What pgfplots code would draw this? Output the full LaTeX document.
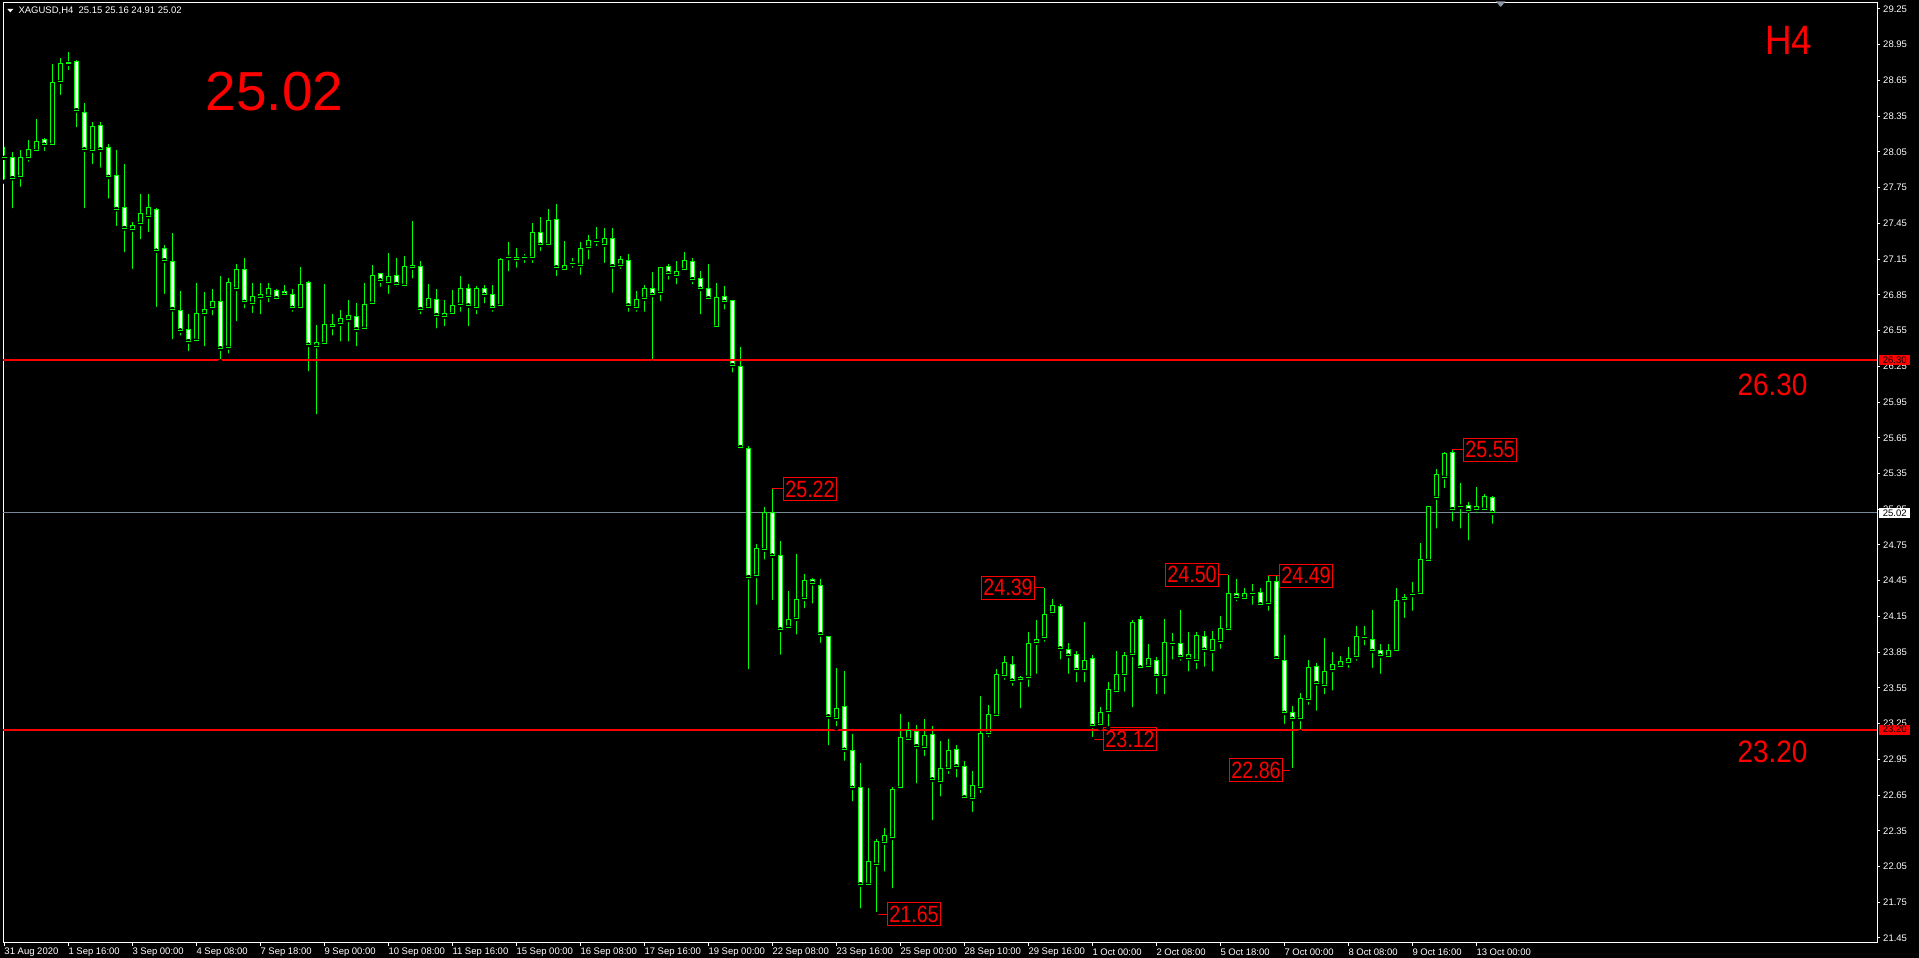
\documentclass[border=0pt]{standalone}
\usepackage{pgfplots}
\pgfplotsset{compat=1.18}
\usepackage{pgfplotstable}
\usepackage{fontspec}
\setmainfont{Liberation Sans}
\newfontfamily\annfont[FakeStretch=0.84]{Liberation Sans}
\newfontfamily\bigfont[FakeStretch=0.9]{Liberation Sans}
\definecolor{cgreen}{RGB}{0,255,0}
\definecolor{cred}{RGB}{255,0,0}
\definecolor{bidgray}{RGB}{119,136,153}
\definecolor{markgray}{RGB}{140,150,165}
\newcommand\tickfont{\fontsize{9.5}{11}\selectfont}

\pgfplotsset{
  ebar/.style 2 args={only marks, mark=none,
    error bars/y dir=plus, error bars/y explicit, error bars/error mark=none,
    error bars/error bar style={draw=#1, line width=#2, solid}},
  cend/.style={only marks, mark=-, mark size=2.5pt, mark options={draw=cgreen, line width=1pt, solid}},
}

\tikzset{ann/.style={draw=cred, text=cred, line width=1pt,
  font=\annfont\fontsize{23.5}{24}\selectfont,
  inner xsep=1.5pt, inner ysep=0pt, minimum height=23pt}}

% rising (and flat) candles: i open high low close
\pgfplotstableread{
i o h l c
0 28.00 28.09 27.80 28.00
2 27.84 28.07 27.74 28.00
3 28.00 28.15 27.95 28.07
4 28.06 28.33 28.06 28.14
6 28.11 28.79 28.09 28.63
7 28.64 28.84 28.51 28.79
8 28.79 28.89 28.72 28.80
11 28.06 28.30 27.93 28.26
16 27.40 27.46 27.05 27.43
17 27.45 27.70 27.30 27.53
18 27.51 27.70 27.36 27.58
24 26.47 26.95 26.45 26.69
25 26.69 26.87 26.40 26.73
26 26.74 26.90 26.66 26.79
28 26.41 26.99 26.34 26.95
29 26.90 27.11 26.61 27.06
31 26.78 26.95 26.68 26.84
32 26.83 26.95 26.67 26.85
33 26.84 26.95 26.77 26.90
37 26.74 27.08 26.73 26.94
39 26.42 26.60 25.83 26.45
40 26.44 26.94 26.44 26.60
42 26.61 26.72 26.44 26.65
43 26.64 26.81 26.44 26.68
45 26.57 26.95 26.55 26.77
46 26.78 27.10 26.76 27.01
48 26.95 27.20 26.84 27.00
50 26.93 27.18 26.89 27.09
51 27.08 27.47 26.97 27.10
53 26.74 26.94 26.71 26.82
55 26.67 26.81 26.57 26.69
56 26.69 26.89 26.68 26.76
57 26.77 27.01 26.69 26.90
59 26.74 26.92 26.67 26.90
62 26.76 27.16 26.74 27.15
63 27.16 27.29 27.03 27.16
65 27.16 27.19 27.10 27.16
66 27.16 27.45 27.10 27.37
68 27.27 27.57 27.25 27.47
70 27.06 27.30 27.04 27.10
71 27.11 27.16 27.06 27.11
72 27.10 27.29 27.00 27.24
73 27.25 27.35 27.13 27.31
74 27.30 27.42 27.24 27.30
75 27.27 27.41 27.10 27.32
77 27.10 27.18 27.05 27.15
79 26.74 26.88 26.69 26.81
80 26.82 26.93 26.69 26.90
82 26.87 27.08 26.78 27.08
84 27.01 27.13 26.92 27.05
85 27.06 27.21 27.03 27.14
89 26.58 26.95 26.58 26.83
94 24.49 24.76 24.23 24.72
95 24.71 25.07 24.61 25.02
98 24.06 24.36 24.06 24.12
99 24.13 24.67 23.98 24.29
100 24.30 24.51 24.20 24.45
104 23.29 23.72 23.21 23.38
108 21.90 22.71 21.90 22.09
109 22.07 22.28 21.65 22.26
110 22.25 22.37 21.99 22.31
111 22.29 22.72 21.85 22.70
112 22.71 23.33 22.69 23.13
113 23.12 23.26 23.12 23.19
115 23.05 23.29 22.96 23.15
117 22.76 23.10 22.62 22.87
118 22.87 23.12 22.81 23.02
121 22.62 22.85 22.49 22.73
122 22.71 23.48 22.65 23.17
123 23.17 23.41 23.12 23.33
124 23.32 23.71 23.30 23.66
125 23.65 23.82 23.60 23.76
127 23.62 23.65 23.36 23.64
128 23.64 24.02 23.54 23.92
129 23.93 24.12 23.65 23.96
130 23.97 24.39 23.92 24.17
131 24.18 24.30 24.14 24.24
135 23.70 24.10 23.58 23.78
137 23.24 23.39 23.21 23.34
138 23.35 23.60 23.21 23.54
139 23.52 23.86 23.51 23.66
140 23.66 23.85 23.50 23.82
141 23.83 24.12 23.37 24.10
143 23.73 23.92 23.70 23.80
145 23.65 24.13 23.48 23.93
146 23.92 24.01 23.77 23.92
148 23.80 24.02 23.67 23.83
149 23.78 24.02 23.69 23.99
151 23.86 24.03 23.67 23.96
152 23.94 24.15 23.86 24.05
153 24.04 24.50 24.03 24.34
155 24.30 24.39 24.29 24.34
156 24.34 24.42 24.23 24.34
158 24.26 24.49 24.18 24.44
162 23.29 23.51 23.18 23.46
163 23.45 23.78 23.39 23.72
165 23.57 23.97 23.48 23.69
166 23.70 23.85 23.51 23.75
167 23.73 23.82 23.72 23.77
168 23.76 23.89 23.70 23.80
169 23.81 24.07 23.76 23.98
170 23.97 24.07 23.89 23.97
173 23.81 23.92 23.81 23.86
174 23.86 24.39 23.85 24.28
175 24.29 24.34 24.12 24.31
176 24.33 24.44 24.18 24.33
177 24.34 24.77 24.33 24.63
178 24.62 25.08 24.62 25.07
179 25.15 25.39 24.87 25.34
180 25.32 25.53 25.21 25.52
182 25.07 25.27 24.87 25.07
184 25.05 25.24 25.00 25.07
185 25.05 25.18 25.05 25.16
}\bull

% falling candles
\pgfplotstableread{
i o h l c
1 28.00 28.05 27.56 27.83
5 28.15 28.17 28.04 28.11
9 28.81 28.82 28.24 28.40
10 28.38 28.46 27.56 28.07
12 28.27 28.30 27.90 28.07
13 28.09 28.12 27.64 27.84
14 27.85 28.07 27.41 27.57
15 27.58 27.95 27.19 27.41
19 27.57 27.58 26.73 27.22
20 27.24 27.27 26.84 27.14
21 27.13 27.37 26.46 26.73
22 26.72 26.88 26.49 26.55
23 26.56 26.69 26.36 26.46
27 26.79 27.01 26.29 26.40
30 27.06 27.16 26.72 26.79
34 26.89 26.90 26.79 26.82
35 26.88 26.93 26.82 26.85
36 26.85 26.90 26.69 26.74
38 26.95 26.97 26.19 26.43
41 26.60 26.69 26.49 26.58
44 26.67 26.78 26.40 26.56
47 27.03 27.03 26.90 26.97
49 27.01 27.16 26.90 26.94
52 27.09 27.13 26.67 26.73
54 26.81 26.90 26.55 26.68
58 26.90 26.94 26.57 26.76
60 26.90 26.93 26.76 26.85
61 26.85 26.93 26.69 26.74
64 27.16 27.24 27.06 27.15
67 27.37 27.50 27.20 27.27
69 27.48 27.61 26.99 27.08
76 27.32 27.41 26.85 27.09
78 27.14 27.19 26.69 26.76
81 26.90 27.04 26.28 26.85
83 27.09 27.11 26.96 27.03
86 27.13 27.16 26.92 26.98
87 26.99 27.05 26.67 26.90
88 26.90 27.11 26.78 26.82
90 26.84 26.92 26.71 26.79
91 26.80 26.80 26.18 26.26
92 26.25 26.41 25.53 25.57
93 25.56 25.58 23.69 24.48
96 25.02 25.22 24.27 24.66
97 24.66 24.78 23.81 24.04
101 24.46 24.47 24.24 24.43
102 24.41 24.46 23.91 24.00
103 23.98 23.98 23.05 23.31
105 23.39 23.69 22.92 23.03
106 23.02 23.16 22.58 22.71
107 22.71 22.92 21.68 21.90
114 23.18 23.24 22.73 23.06
116 23.16 23.23 22.42 22.78
119 23.03 23.07 22.78 22.89
120 22.89 22.94 22.62 22.63
126 23.75 23.82 23.55 23.61
132 24.23 24.25 23.77 23.88
133 23.87 23.93 23.65 23.82
134 23.83 23.86 23.58 23.70
136 23.80 23.83 23.12 23.23
142 24.12 24.15 23.70 23.72
144 23.78 23.81 23.48 23.65
147 23.92 24.20 23.76 23.81
150 23.98 24.03 23.71 23.87
154 24.34 24.46 24.26 24.31
157 24.35 24.39 24.21 24.25
159 24.44 24.49 23.78 23.80
160 23.78 23.99 23.23 23.34
161 23.34 23.40 22.86 23.29
164 23.73 23.76 23.34 23.59
171 23.96 24.20 23.70 23.86
172 23.86 23.92 23.65 23.82
181 25.53 25.55 24.93 25.05
183 25.08 25.11 24.77 25.04
186 25.15 25.16 24.91 25.02
}\bear

\begin{document}
\begin{tikzpicture}
\useasboundingbox (-3pt,-15pt) rectangle (1916pt,943pt);
\fill[black] (-3pt,-15pt) rectangle (1916pt,943pt);
\begin{axis}[
  at={(0pt,0pt)}, anchor=south west,
  x=8pt, y=119.1pt,
  xmin=-0.1625, xmax=234.0875, ymin=21.4078, ymax=29.3029,
  axis background/.style={fill=black},
  axis line style={white, line width=1pt},
  tick align=outside, major tick length=3pt,
  tick style={white, line width=1pt},
  xtick pos=bottom, ytick pos=right, yticklabel pos=right,
  ytick={21.45,21.75,22.05,22.35,22.65,22.95,23.25,23.55,23.85,24.15,24.45,24.75,25.05,25.35,25.65,25.95,26.25,26.55,26.85,27.15,27.45,27.75,28.05,28.35,28.65,28.95,29.25},
  yticklabels={21.45,21.75,22.05,22.35,22.65,22.95,23.25,23.55,23.85,24.15,24.45,24.75,25.05,25.35,25.65,25.95,26.25,26.55,26.85,27.15,27.45,27.75,28.05,28.35,28.65,28.95,29.25},
  xtick={0,8,16,24,32,40,48,56,64,72,80,88,96,104,112,120,128,136,144,152,160,168,176,184},
  xticklabels={31 Aug 2020,1 Sep 16:00,3 Sep 00:00,4 Sep 08:00,7 Sep 18:00,9 Sep 00:00,10 Sep 08:00,11 Sep 16:00,15 Sep 00:00,16 Sep 08:00,17 Sep 16:00,19 Sep 00:00,22 Sep 08:00,23 Sep 16:00,25 Sep 00:00,28 Sep 10:00,29 Sep 16:00,1 Oct 00:00,2 Oct 08:00,5 Oct 18:00,7 Oct 00:00,8 Oct 08:00,9 Oct 16:00,13 Oct 00:00},
  ticklabel style={font=\tickfont, text=white},
  xticklabel style={anchor=west, inner sep=0pt, yshift=-6pt},
  yticklabel style={anchor=west, inner sep=0pt, xshift=3pt},
]
\addplot[bidgray, line width=1pt, forget plot] coordinates {(-0.1625,25.02) (234.0875,25.02)};
% wicks
\addplot[ebar={cgreen}{1pt}] table[x=i, y=l, y error expr=\thisrow{h}-\thisrow{l}] {\bull};
\addplot[ebar={cgreen}{1pt}] table[x=i, y=l, y error expr=\thisrow{h}-\thisrow{l}] {\bear};
% bodies: green outline, then fill
\addplot[ebar={cgreen}{5pt}] table[x=i, y=o, y error expr=\thisrow{c}-\thisrow{o}] {\bull};
\addplot[ebar={black}{3pt}] table[x=i, y=o, y error expr=\thisrow{c}-\thisrow{o}] {\bull};
\addplot[ebar={cgreen}{5pt}] table[x=i, y=c, y error expr=\thisrow{o}-\thisrow{c}] {\bear};
\addplot[ebar={white}{3pt}] table[x=i, y=c, y error expr=\thisrow{o}-\thisrow{c}] {\bear};
% top and bottom edges of the bodies
\addplot[cend] table[x=i, y=o] {\bull};
\addplot[cend] table[x=i, y=c] {\bull};
\addplot[cend] table[x=i, y=o] {\bear};
\addplot[cend] table[x=i, y=c] {\bear};
% levels
\addplot[cred, line width=2pt] coordinates {(-0.1625,26.30) (234.0875,26.30)};
\addplot[cred, line width=2pt] coordinates {(-0.1625,23.20) (234.0875,23.20)};

\draw[cred, line width=1pt] (axis cs:96,25.22) -- ++(11pt,0pt) node[ann, anchor=west] {25.22};
\draw[cred, line width=1pt] (axis cs:109,21.65) -- ++(11pt,0pt) node[ann, anchor=west] {21.65};
\draw[cred, line width=1pt] (axis cs:130,24.39) -- ++(-9.6pt,0pt) node[ann, anchor=east] {24.39};
\draw[cred, line width=1pt] (axis cs:136,23.12) -- ++(11pt,0pt) node[ann, anchor=west] {23.12};
\draw[cred, line width=1pt] (axis cs:153,24.50) -- ++(-9.6pt,0pt) node[ann, anchor=east] {24.50};
\draw[cred, line width=1pt] (axis cs:158,24.49) -- ++(11pt,0pt) node[ann, anchor=west] {24.49};
\draw[cred, line width=1pt] (axis cs:161,22.86) -- ++(-9.6pt,0pt) node[ann, anchor=east] {22.86};
\draw[cred, line width=1pt] (axis cs:181,25.55) -- ++(11pt,0pt) node[ann, anchor=west] {25.55};

\coordinate (tagA) at (axis cs:234.0875,26.30);
\coordinate (tagB) at (axis cs:234.0875,23.20);
\coordinate (tagC) at (axis cs:234.0875,25.02);
\end{axis}

% price tags on the right scale
\node[fill=cred, text=black, font=\tickfont, inner sep=0pt, minimum height=10pt, minimum width=31pt, anchor=west] at ([xshift=2pt]tagA) {26.30};
\node[fill=cred, text=black, font=\tickfont, inner sep=0pt, minimum height=10pt, minimum width=31pt, anchor=west] at ([xshift=2pt]tagB) {23.20};
\node[fill=white, text=black, font=\tickfont, inner sep=0pt, minimum height=10pt, minimum width=31pt, anchor=west] at ([xshift=2pt]tagC) {25.02};

% big texts
\node[text=cred, font=\fontsize{55}{60}\selectfont, inner sep=0pt] at (271.5pt,851pt) {25.02};
\node[text=cred, font=\bigfont\fontsize{41}{45}\selectfont, inner sep=0pt] at (1785.9pt,903pt) {H4};
\node[text=cred, font=\bigfont\fontsize{31}{34}\selectfont, inner sep=0pt] at (1769.5pt,557.7pt) {26.30};
\node[text=cred, font=\bigfont\fontsize{31}{34}\selectfont, inner sep=0pt] at (1769.5pt,190.8pt) {23.20};

% header
\fill[white] (4.3pt,934pt) -- (10.3pt,934pt) -- (7.3pt,930.7pt) -- cycle;
\node[text=white, font=\tickfont, inner sep=0pt, anchor=west] at (15.3pt,932.3pt) {XAGUSD,H4\ \ 25.15 25.16 24.91 25.02};
\fill[markgray] (1493pt,941.5pt) -- (1502.3pt,941.5pt) -- (1497.7pt,936pt) -- cycle;
\end{tikzpicture}
\end{document}
